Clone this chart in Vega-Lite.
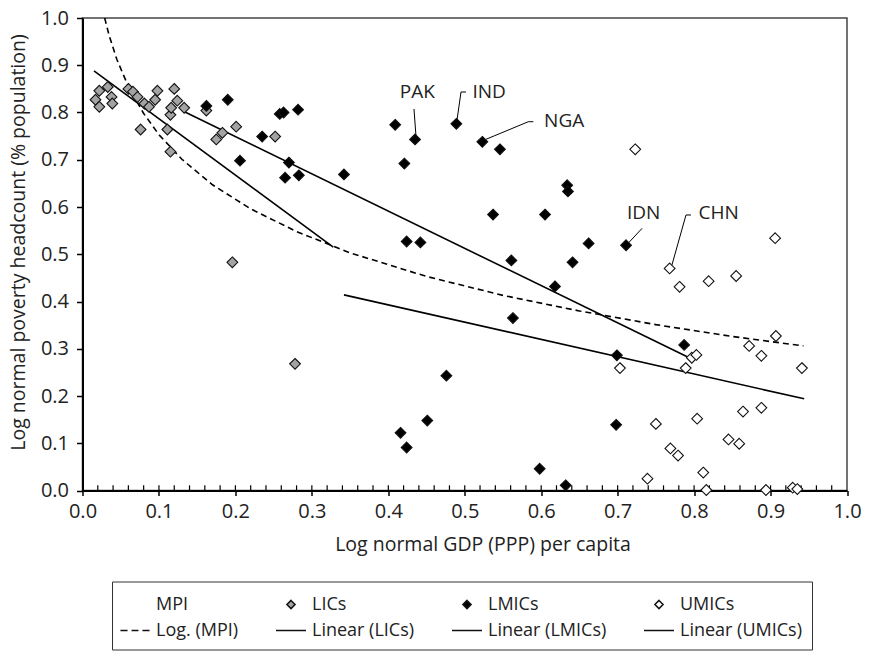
{
  "$schema": "https://vega.github.io/schema/vega-lite/v6.json",
  "autosize": {"type": "none"},
  "width": 764.5,
  "height": 472.5,
  "padding": {"left": 82.5, "top": 18, "right": 29, "bottom": 164.5},
  "background": "white",
  "config": {
    "font": "Open Sans",
    "view": {"stroke": "#444", "strokeWidth": 1.5},
    "axis": {"labelFont": "Open Sans", "labelFontSize": 20, "labelColor": "#222", "labelFlush": false, "titleFont": "Open Sans", "titleFontSize": 19.5, "titleFontWeight": "normal", "titleColor": "#222", "domainColor": "#000", "domainWidth": 2, "tickColor": "#000", "tickWidth": 1.5, "grid": false},
    "legend": {"labelFont": "Open Sans", "labelFontSize": 18, "labelColor": "#222"}
  },
  "datasets": {
    "points": [
      {"x": 0.017, "y": 0.827, "series": "LICs"},
      {"x": 0.022, "y": 0.812, "series": "LICs"},
      {"x": 0.022, "y": 0.846, "series": "LICs"},
      {"x": 0.033, "y": 0.854, "series": "LICs"},
      {"x": 0.038, "y": 0.833, "series": "LICs"},
      {"x": 0.039, "y": 0.819, "series": "LICs"},
      {"x": 0.060, "y": 0.850, "series": "LICs"},
      {"x": 0.066, "y": 0.844, "series": "LICs"},
      {"x": 0.072, "y": 0.833, "series": "LICs"},
      {"x": 0.076, "y": 0.764, "series": "LICs"},
      {"x": 0.081, "y": 0.819, "series": "LICs"},
      {"x": 0.087, "y": 0.812, "series": "LICs"},
      {"x": 0.095, "y": 0.827, "series": "LICs"},
      {"x": 0.098, "y": 0.846, "series": "LICs"},
      {"x": 0.111, "y": 0.764, "series": "LICs"},
      {"x": 0.115, "y": 0.717, "series": "LICs"},
      {"x": 0.115, "y": 0.795, "series": "LICs"},
      {"x": 0.116, "y": 0.810, "series": "LICs"},
      {"x": 0.120, "y": 0.850, "series": "LICs"},
      {"x": 0.124, "y": 0.825, "series": "LICs"},
      {"x": 0.133, "y": 0.810, "series": "LICs"},
      {"x": 0.162, "y": 0.804, "series": "LICs"},
      {"x": 0.175, "y": 0.743, "series": "LICs"},
      {"x": 0.183, "y": 0.757, "series": "LICs"},
      {"x": 0.201, "y": 0.770, "series": "LICs"},
      {"x": 0.252, "y": 0.749, "series": "LICs"},
      {"x": 0.196, "y": 0.483, "series": "LICs"},
      {"x": 0.278, "y": 0.268, "series": "LICs"},
      {"x": 0.162, "y": 0.814, "series": "LMICs"},
      {"x": 0.190, "y": 0.827, "series": "LMICs"},
      {"x": 0.206, "y": 0.698, "series": "LMICs"},
      {"x": 0.235, "y": 0.749, "series": "LMICs"},
      {"x": 0.258, "y": 0.797, "series": "LMICs"},
      {"x": 0.263, "y": 0.800, "series": "LMICs"},
      {"x": 0.282, "y": 0.806, "series": "LMICs"},
      {"x": 0.270, "y": 0.694, "series": "LMICs"},
      {"x": 0.265, "y": 0.662, "series": "LMICs"},
      {"x": 0.283, "y": 0.667, "series": "LMICs"},
      {"x": 0.342, "y": 0.669, "series": "LMICs"},
      {"x": 0.409, "y": 0.774, "series": "LMICs"},
      {"x": 0.435, "y": 0.743, "series": "LMICs"},
      {"x": 0.489, "y": 0.776, "series": "LMICs"},
      {"x": 0.523, "y": 0.738, "series": "LMICs"},
      {"x": 0.546, "y": 0.722, "series": "LMICs"},
      {"x": 0.421, "y": 0.692, "series": "LMICs"},
      {"x": 0.537, "y": 0.584, "series": "LMICs"},
      {"x": 0.605, "y": 0.584, "series": "LMICs"},
      {"x": 0.424, "y": 0.527, "series": "LMICs"},
      {"x": 0.442, "y": 0.525, "series": "LMICs"},
      {"x": 0.561, "y": 0.487, "series": "LMICs"},
      {"x": 0.634, "y": 0.646, "series": "LMICs"},
      {"x": 0.635, "y": 0.633, "series": "LMICs"},
      {"x": 0.641, "y": 0.483, "series": "LMICs"},
      {"x": 0.618, "y": 0.432, "series": "LMICs"},
      {"x": 0.563, "y": 0.365, "series": "LMICs"},
      {"x": 0.662, "y": 0.523, "series": "LMICs"},
      {"x": 0.711, "y": 0.519, "series": "LMICs"},
      {"x": 0.787, "y": 0.308, "series": "LMICs"},
      {"x": 0.699, "y": 0.286, "series": "LMICs"},
      {"x": 0.476, "y": 0.243, "series": "LMICs"},
      {"x": 0.416, "y": 0.122, "series": "LMICs"},
      {"x": 0.424, "y": 0.091, "series": "LMICs"},
      {"x": 0.451, "y": 0.148, "series": "LMICs"},
      {"x": 0.598, "y": 0.046, "series": "LMICs"},
      {"x": 0.632, "y": 0.011, "series": "LMICs"},
      {"x": 0.698, "y": 0.139, "series": "LMICs"},
      {"x": 0.723, "y": 0.722, "series": "UMICs"},
      {"x": 0.768, "y": 0.470, "series": "UMICs"},
      {"x": 0.781, "y": 0.431, "series": "UMICs"},
      {"x": 0.819, "y": 0.443, "series": "UMICs"},
      {"x": 0.855, "y": 0.454, "series": "UMICs"},
      {"x": 0.906, "y": 0.534, "series": "UMICs"},
      {"x": 0.907, "y": 0.327, "series": "UMICs"},
      {"x": 0.872, "y": 0.306, "series": "UMICs"},
      {"x": 0.888, "y": 0.285, "series": "UMICs"},
      {"x": 0.941, "y": 0.259, "series": "UMICs"},
      {"x": 0.797, "y": 0.281, "series": "UMICs"},
      {"x": 0.803, "y": 0.287, "series": "UMICs"},
      {"x": 0.789, "y": 0.259, "series": "UMICs"},
      {"x": 0.703, "y": 0.259, "series": "UMICs"},
      {"x": 0.804, "y": 0.152, "series": "UMICs"},
      {"x": 0.864, "y": 0.167, "series": "UMICs"},
      {"x": 0.888, "y": 0.175, "series": "UMICs"},
      {"x": 0.845, "y": 0.108, "series": "UMICs"},
      {"x": 0.859, "y": 0.099, "series": "UMICs"},
      {"x": 0.750, "y": 0.141, "series": "UMICs"},
      {"x": 0.769, "y": 0.089, "series": "UMICs"},
      {"x": 0.779, "y": 0.074, "series": "UMICs"},
      {"x": 0.812, "y": 0.038, "series": "UMICs"},
      {"x": 0.739, "y": 0.025, "series": "UMICs"},
      {"x": 0.816, "y": 0.001, "series": "UMICs"},
      {"x": 0.894, "y": 0.001, "series": "UMICs"},
      {"x": 0.929, "y": 0.006, "series": "UMICs"},
      {"x": 0.935, "y": 0.003, "series": "UMICs"}
    ],
    "fits": [
      {"fit": "Log. (MPI)", "o": 1, "x": 0.029, "y": 1.0},
      {"fit": "Log. (MPI)", "o": 2, "x": 0.035, "y": 0.962},
      {"fit": "Log. (MPI)", "o": 3, "x": 0.045, "y": 0.912},
      {"fit": "Log. (MPI)", "o": 4, "x": 0.06, "y": 0.855},
      {"fit": "Log. (MPI)", "o": 5, "x": 0.08, "y": 0.798},
      {"fit": "Log. (MPI)", "o": 6, "x": 0.1, "y": 0.753},
      {"fit": "Log. (MPI)", "o": 7, "x": 0.13, "y": 0.701},
      {"fit": "Log. (MPI)", "o": 8, "x": 0.17, "y": 0.647},
      {"fit": "Log. (MPI)", "o": 9, "x": 0.22, "y": 0.596},
      {"fit": "Log. (MPI)", "o": 10, "x": 0.28, "y": 0.548},
      {"fit": "Log. (MPI)", "o": 11, "x": 0.35, "y": 0.503},
      {"fit": "Log. (MPI)", "o": 12, "x": 0.45, "y": 0.453},
      {"fit": "Log. (MPI)", "o": 13, "x": 0.55, "y": 0.413},
      {"fit": "Log. (MPI)", "o": 14, "x": 0.65, "y": 0.380},
      {"fit": "Log. (MPI)", "o": 15, "x": 0.75, "y": 0.351},
      {"fit": "Log. (MPI)", "o": 16, "x": 0.85, "y": 0.326},
      {"fit": "Log. (MPI)", "o": 17, "x": 0.943, "y": 0.306},
      {"fit": "Linear (LICs)", "o": 1, "x": 0.015, "y": 0.888},
      {"fit": "Linear (LICs)", "o": 2, "x": 0.328, "y": 0.515},
      {"fit": "Linear (LMICs)", "o": 1, "x": 0.134, "y": 0.801},
      {"fit": "Linear (LMICs)", "o": 2, "x": 0.791, "y": 0.283},
      {"fit": "Linear (UMICs)", "o": 1, "x": 0.342, "y": 0.414},
      {"fit": "Linear (UMICs)", "o": 2, "x": 0.944, "y": 0.194}
    ],
    "labels": [
      {"label": "PAK", "x": 0.438, "y": 0.844},
      {"label": "IND", "x": 0.532, "y": 0.844},
      {"label": "NGA", "x": 0.630, "y": 0.781},
      {"label": "IDN", "x": 0.734, "y": 0.588},
      {"label": "CHN", "x": 0.832, "y": 0.588}
    ],
    "connectors": [
      {"label": "PAK", "o": 1, "x": 0.4336, "y": 0.8074},
      {"label": "PAK", "o": 2, "x": 0.4362, "y": 0.7503},
      {"label": "IND", "o": 1, "x": 0.5016, "y": 0.8434},
      {"label": "IND", "o": 2, "x": 0.4951, "y": 0.8434},
      {"label": "IND", "o": 3, "x": 0.4899, "y": 0.7841},
      {"label": "NGA", "o": 1, "x": 0.5897, "y": 0.7805},
      {"label": "NGA", "o": 2, "x": 0.5832, "y": 0.7805},
      {"label": "NGA", "o": 3, "x": 0.5278, "y": 0.7433},
      {"label": "IDN", "o": 1, "x": 0.7320, "y": 0.5549},
      {"label": "IDN", "o": 2, "x": 0.7137, "y": 0.5232},
      {"label": "CHN", "o": 1, "x": 0.7959, "y": 0.5831},
      {"label": "CHN", "o": 2, "x": 0.7894, "y": 0.5831},
      {"label": "CHN", "o": 3, "x": 0.7710, "y": 0.4772}
    ],
    "minor": [
      {"t": 0.02}, {"t": 0.04}, {"t": 0.06}, {"t": 0.08}, {"t": 0.1},
      {"t": 0.12}, {"t": 0.14}, {"t": 0.16}, {"t": 0.18}, {"t": 0.2},
      {"t": 0.22}, {"t": 0.24}, {"t": 0.26}, {"t": 0.28}, {"t": 0.3},
      {"t": 0.32}, {"t": 0.34}, {"t": 0.36}, {"t": 0.38}, {"t": 0.4},
      {"t": 0.42}, {"t": 0.44}, {"t": 0.46}, {"t": 0.48}, {"t": 0.5},
      {"t": 0.52}, {"t": 0.54}, {"t": 0.56}, {"t": 0.58}, {"t": 0.6},
      {"t": 0.62}, {"t": 0.64}, {"t": 0.66}, {"t": 0.68}, {"t": 0.7},
      {"t": 0.72}, {"t": 0.74}, {"t": 0.76}, {"t": 0.78}, {"t": 0.8},
      {"t": 0.82}, {"t": 0.84}, {"t": 0.86}, {"t": 0.88}, {"t": 0.9},
      {"t": 0.92}, {"t": 0.94}, {"t": 0.96}, {"t": 0.98}
    ]
  },
  "layer": [
    {
      "data": {"name": "minor"},
      "mark": {"type": "rule", "color": "#000", "strokeWidth": 1.2},
      "encoding": {
        "x": {"field": "t", "type": "quantitative", "scale": {"domain": [0, 1], "nice": false, "padding": 0}},
        "y": {"datum": 0},
        "y2": {"datum": 0.011}
      }
    },
    {
      "data": {"name": "fits"},
      "transform": [{"filter": "datum.fit === 'Log. (MPI)'"}],
      "mark": {"type": "line", "color": "#000", "strokeWidth": 1.6, "strokeDash": [6, 4], "clip": true},
      "encoding": {
        "x": {"field": "x", "type": "quantitative"},
        "y": {"field": "y", "type": "quantitative"},
        "order": {"field": "o"}
      }
    },
    {
      "data": {"name": "fits"},
      "transform": [{"filter": "datum.fit !== 'Log. (MPI)'"}],
      "mark": {"type": "line", "color": "#000", "strokeWidth": 1.6},
      "encoding": {
        "x": {"field": "x", "type": "quantitative"},
        "y": {"field": "y", "type": "quantitative"},
        "detail": {"field": "fit"},
        "order": {"field": "o"}
      }
    },
    {
      "data": {"name": "connectors"},
      "mark": {"type": "line", "color": "#000", "strokeWidth": 1},
      "encoding": {
        "x": {"field": "x", "type": "quantitative"},
        "y": {"field": "y", "type": "quantitative"},
        "detail": {"field": "label"},
        "order": {"field": "o"}
      }
    },
    {
      "data": {"name": "points"},
      "mark": {"type": "point", "filled": true, "size": 1000, "stroke": "#111", "strokeWidth": 1.1, "opacity": 1},
      "encoding": {
        "x": {"field": "x", "type": "quantitative", "scale": {"domain": [0, 1], "nice": false, "padding": 0}, "axis": {"values": [0, 0.1, 0.2, 0.3, 0.4, 0.5, 0.6, 0.7, 0.8, 0.9, 1.0], "format": ".1f", "tickSize": 5, "labelPadding": 6, "title": "Log normal GDP (PPP) per capita", "titlePadding": 14, "titleX": 400}},
        "y": {"field": "y", "type": "quantitative", "scale": {"domain": [0, 1], "nice": false, "padding": 0}, "axis": {"values": [0, 0.1, 0.2, 0.3, 0.4, 0.5, 0.6, 0.7, 0.8, 0.9, 1.0], "format": ".1f", "tickSize": 6, "labelPadding": 8, "title": "Log normal poverty headcount (% population)", "titlePadding": 12, "titleY": 224}},
        "shape": {
          "field": "series", "type": "nominal",
          "scale": {
            "domain": ["MPI", "LICs", "LMICs", "UMICs", "Log. (MPI)", "Linear (LICs)", "Linear (LMICs)", "Linear (UMICs)"],
            "range": ["M0,0", "M0,-0.34L0.34,0L0,0.34L-0.34,0Z", "M0,-0.34L0.34,0L0,0.34L-0.34,0Z", "M0,-0.34L0.34,0L0,0.34L-0.34,0Z", "M-1.21,0L-0.62,0M-0.29,0L0.29,0M0.62,0L1.21,0", "M-1.25,0L1.25,0", "M-1.25,0L1.25,0", "M-1.25,0L1.25,0"]
          },
          "legend": {"title": null, "orient": "none", "legendX": 29.5, "legendY": 563.5, "direction": "horizontal", "columns": 4, "symbolSize": 576, "strokeColor": "#333", "padding": 10, "columnPadding": 34, "rowPadding": 4, "labelOffset": 8,
            "encode": {"symbols": {"update": {"stroke": {"value": "#000"}, "strokeWidth": {"value": 1.3}}}}}
        },
        "fill": {
          "field": "series", "type": "nominal",
          "scale": {
            "domain": ["MPI", "LICs", "LMICs", "UMICs", "Log. (MPI)", "Linear (LICs)", "Linear (LMICs)", "Linear (UMICs)"],
            "range": ["transparent", "#a3a3a3", "#000000", "#ffffff", "transparent", "transparent", "transparent", "transparent"]
          }
        }
      }
    },
    {
      "data": {"name": "labels"},
      "mark": {"type": "text", "font": "Open Sans", "fontSize": 19, "color": "#222", "align": "center", "baseline": "middle"},
      "encoding": {
        "x": {"field": "x", "type": "quantitative"},
        "y": {"field": "y", "type": "quantitative"},
        "text": {"field": "label"}
      }
    }
  ]
}
